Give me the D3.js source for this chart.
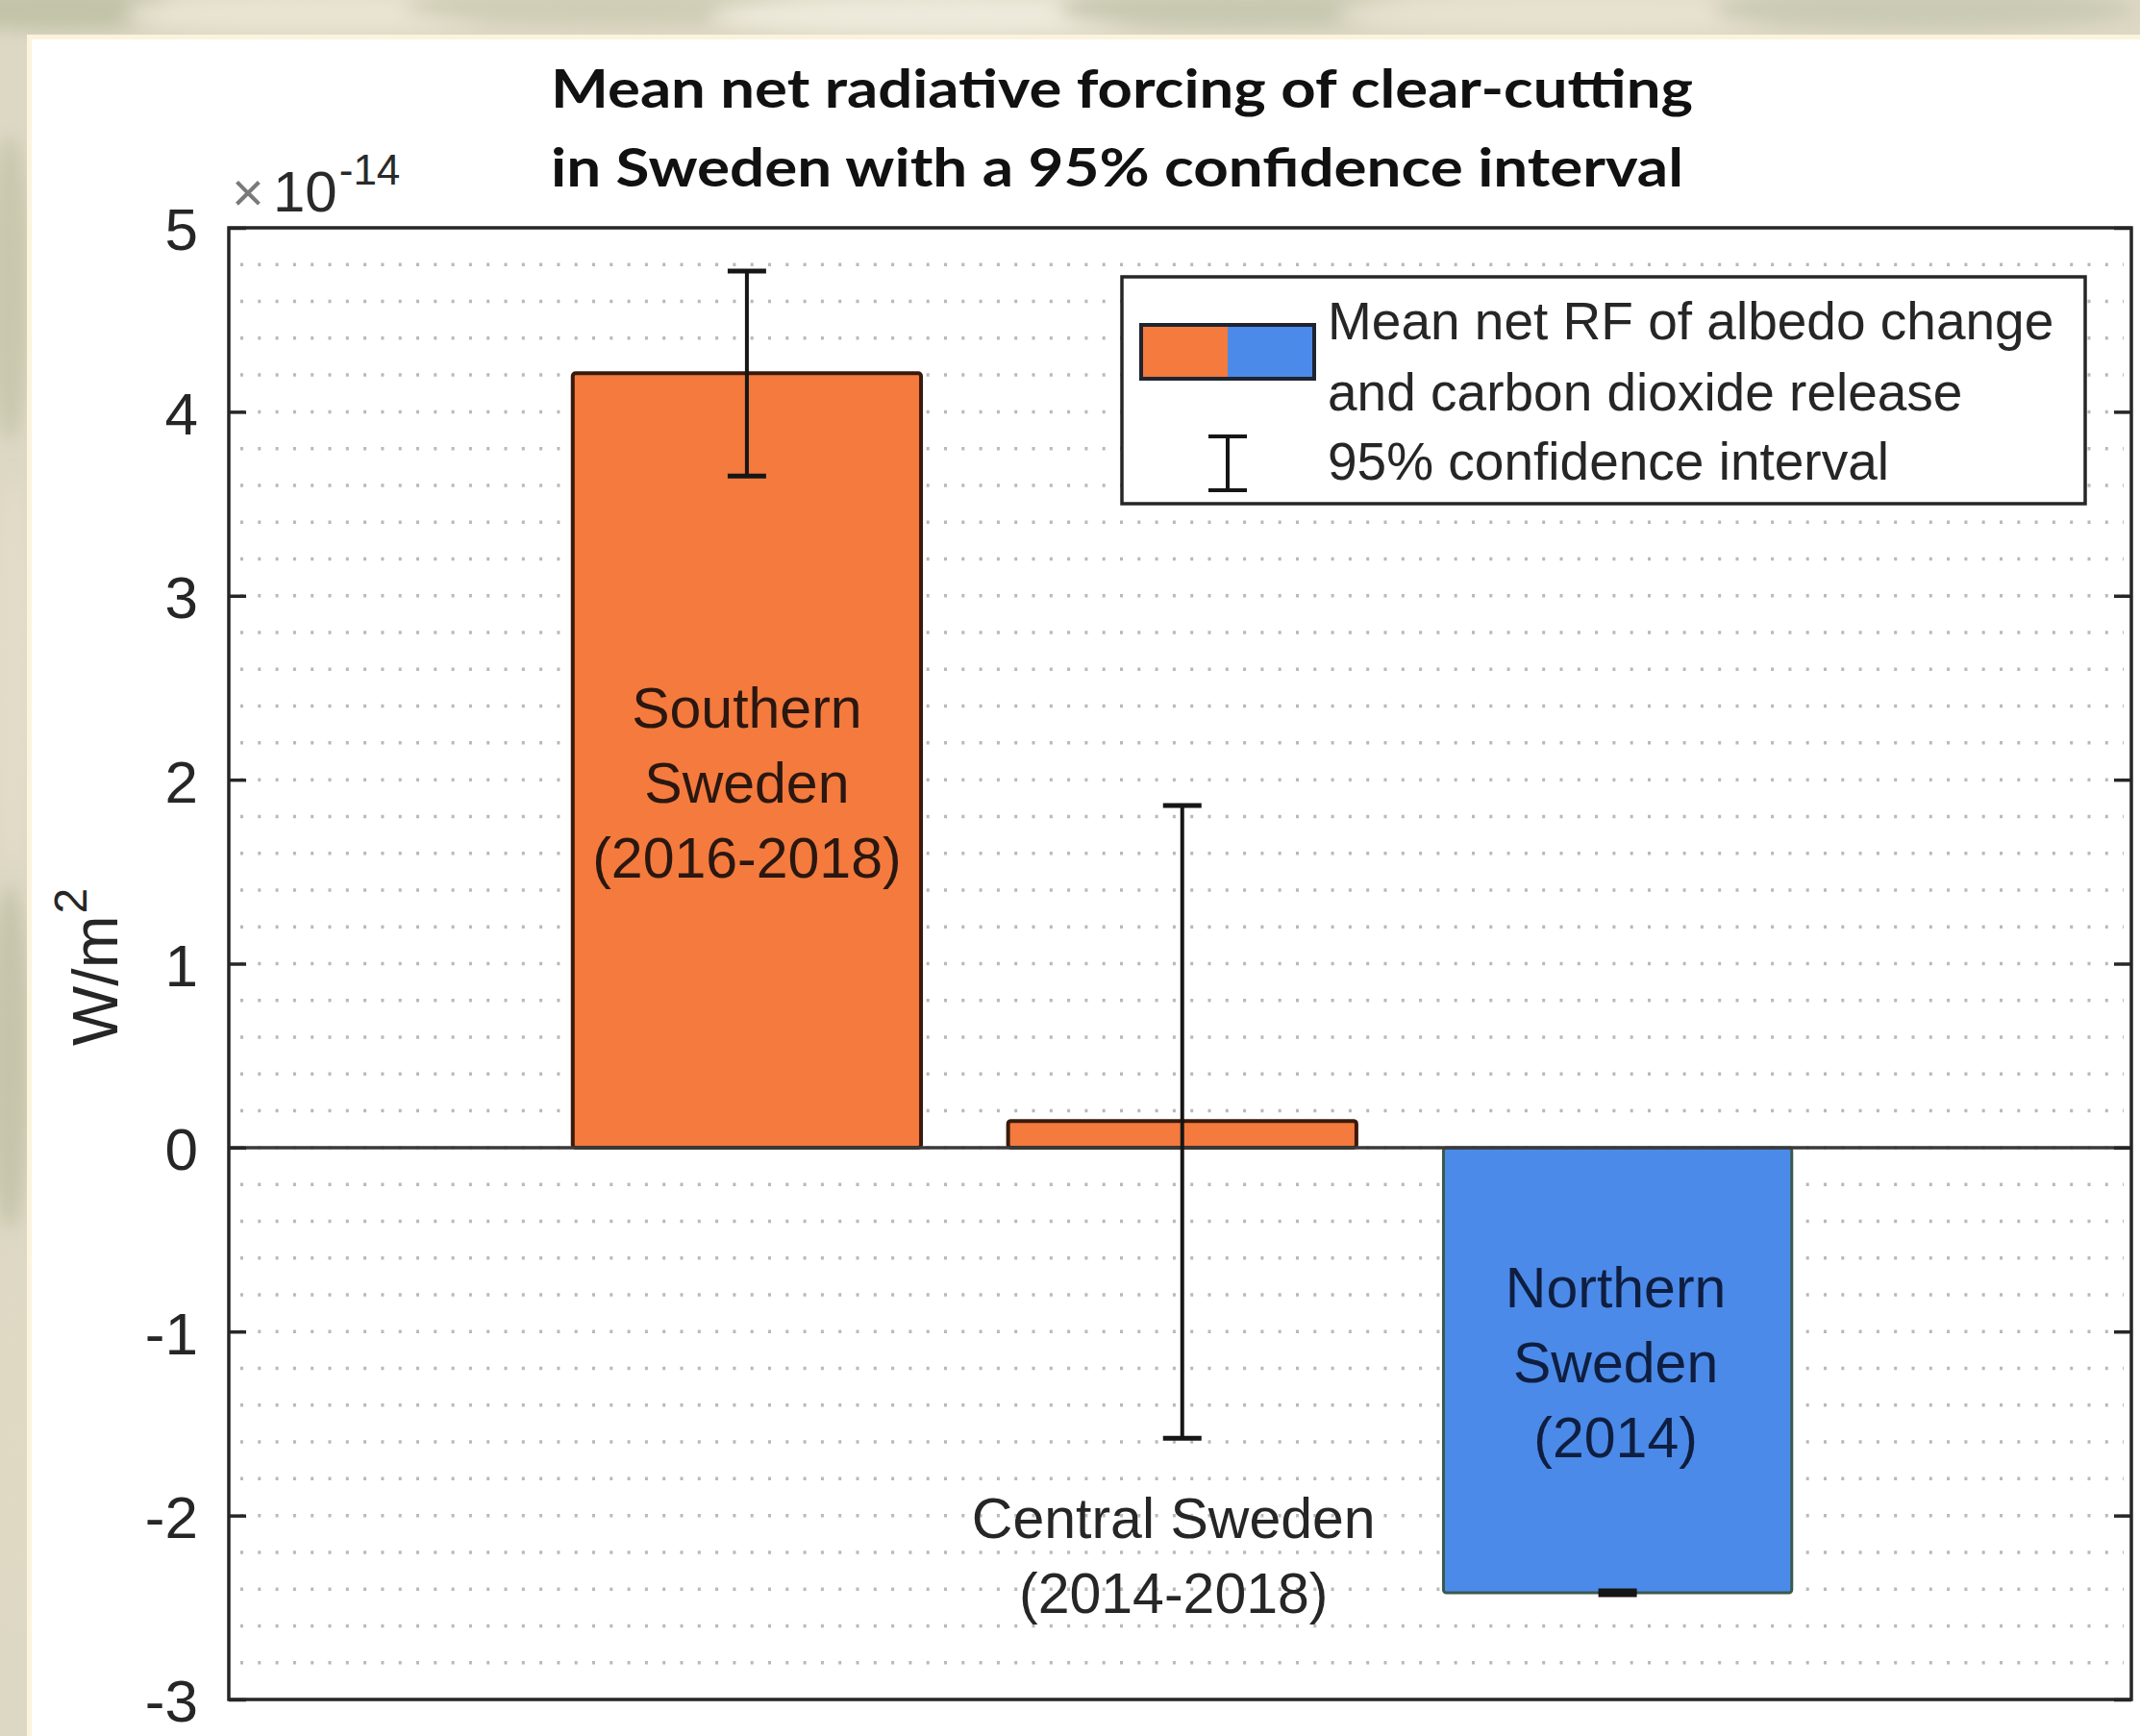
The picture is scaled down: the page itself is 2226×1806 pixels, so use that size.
<!DOCTYPE html>
<html>
<head>
<meta charset="utf-8">
<script src="https://cdn.jsdelivr.net/npm/d3@7/dist/d3.min.js"></script>
<style>
  html, body { margin: 0; padding: 0; background: #ffffff; }
  svg { display: block; }
</style>
</head>
<body>
<div id="chart"></div>
<script>
// ---------------- data ----------------
const categories = ["Southern Sweden (2016-2018)", "Central Sweden (2014-2018)", "Northern Sweden (2014)"];
const categoryPositions = [1, 2, 3];
const meanValues = [4.21, 0.145, -2.42];          // x 10^-14 W/m^2
const ciLower = [3.65, -1.58, -2.43];
const ciUpper = [4.765, 1.86, -2.41];
const barColors = ["#F47A3E", "#F47A3E", "#4B8AE8"];
const barLabelLines = [["Southern", "Sweden", "(2016-2018)"], ["Central Sweden", "(2014-2018)"], ["Northern", "Sweden", "(2014)"]];
const yTicks = [-3, -2, -1, 0, 1, 2, 3, 4, 5];
const yTickLabels = ["-3", "-2", "-1", "0", "1", "2", "3", "4", "5"];
const titleLines = ["Mean net radiative forcing of clear-cutting", "in Sweden with a 95% confidence interval"];
const legendLabels = ["Mean net RF of albedo change", "and carbon dioxide release", "95% confidence interval"];
const legendColors = ["#F47A3E", "#4B8AE8"];
const yExponent = "-14";
const yLabelBase = "W/m";
const yLabelSup = "2";

// ---------------- drawing ----------------
const W = 2226, H = 1806;
const SANS = "'Liberation Sans', Arial, Helvetica, sans-serif";
const svg = d3.select("#chart").append("svg").attr("width", W).attr("height", H);

const defs = svg.append("defs");
defs.append("filter").attr("id", "blur").attr("x", "-50%").attr("y", "-50%").attr("width", "200%").attr("height", "200%")
  .append("feGaussianBlur").attr("stdDeviation", 9);

// textured backdrop of the screenshot
const bg = svg.append("g");
bg.append("rect").attr("width", W).attr("height", H).attr("fill", "#ddd8c4");
const bgBlobs = bg.append("g").attr("filter", "url(#blur)");
[[60, 10, 140, 22, "#c2c3a9"], [330, 14, 200, 20, "#e9e4d2"], [640, 8, 220, 18, "#cfcdb6"],
 [980, 16, 240, 20, "#eeeadb"], [1300, 10, 200, 20, "#c8c8b0"], [1650, 14, 260, 20, "#e7e2d0"],
 [2000, 10, 220, 22, "#cbcab4"], [10, 300, 22, 160, "#c9c7ae"], [14, 700, 20, 200, "#e2dcc8"],
 [10, 1100, 22, 180, "#c6c4ab"], [14, 1500, 20, 200, "#dfd9c4"]]
  .forEach(b => bgBlobs.append("ellipse").attr("cx", b[0]).attr("cy", b[1]).attr("rx", b[2]).attr("ry", b[3]).attr("fill", b[4]));
bg.append("rect").attr("x", 28).attr("y", 36).attr("width", W - 28).attr("height", H - 36).attr("fill", "#fbf3dc");
bg.append("rect").attr("x", 33).attr("y", 41).attr("width", W - 33).attr("height", H - 41).attr("fill", "#ffffff");

// scales
const plot = { left: 238, right: 2217, top: 237, bottom: 1768 };
const x = d3.scaleLinear().domain([-0.19, 4.18]).range([plot.left, plot.right]);
const y = d3.scaleLinear().domain([-3, 5]).range([plot.bottom, plot.top]);
const barW = 0.8;

// dotted minor grid (every 0.2)
const gridVals = d3.range(-2.8, 4.9, 0.2).map(v => Math.round(v * 10) / 10);
svg.append("g").selectAll("line").data(gridVals).join("line")
  .attr("x1", plot.left + 12).attr("x2", plot.right - 8)
  .attr("y1", d => y(d)).attr("y2", d => y(d))
  .attr("stroke", "#b9b9b9").attr("stroke-width", 3.5).attr("stroke-dasharray", "3 15.3");

// bars
svg.append("g").selectAll("rect").data(meanValues).join("rect")
  .attr("x", (d, i) => x(categoryPositions[i] - barW / 2))
  .attr("width", (d, i) => x(categoryPositions[i] + barW / 2) - x(categoryPositions[i] - barW / 2))
  .attr("y", d => Math.min(y(d), y(0)))
  .attr("height", d => Math.abs(y(d) - y(0)))
  .attr("rx", 3)
  .attr("fill", (d, i) => barColors[i])
  .attr("stroke", (d, i) => d >= 0 ? "#3a1a0c" : "#3b5a4c")
  .attr("stroke-width", (d, i) => d >= 0 ? 4 : 3);

// baseline at zero
svg.append("line").attr("x1", plot.left).attr("x2", plot.right).attr("y1", y(0)).attr("y2", y(0))
  .attr("stroke", "#3a3a3a").attr("stroke-width", 3.5);

// error bars
const capHalf = 20;
const eb = svg.append("g").attr("stroke", "#161616").attr("fill", "none");
categoryPositions.forEach((p, i) => {
  const cx = x(p);
  eb.append("line").attr("x1", cx).attr("x2", cx).attr("y1", y(ciLower[i])).attr("y2", y(ciUpper[i])).attr("stroke-width", 4);
  eb.append("line").attr("x1", cx - capHalf).attr("x2", cx + capHalf).attr("y1", y(ciLower[i])).attr("y2", y(ciLower[i])).attr("stroke-width", 5);
  eb.append("line").attr("x1", cx - capHalf).attr("x2", cx + capHalf).attr("y1", y(ciUpper[i])).attr("y2", y(ciUpper[i])).attr("stroke-width", 5);
});

// axes (ticks inward, box)
const leftAxis = d3.axisLeft(y).tickValues(yTicks).tickFormat((d, i) => yTickLabels[i]).tickSize(-18).tickPadding(32);
const gl = svg.append("g").attr("transform", `translate(${plot.left},0)`).call(leftAxis);
gl.select(".domain").remove();
gl.selectAll(".tick line").attr("stroke", "#262626").attr("stroke-width", 3.5);
gl.selectAll(".tick text").attr("font-family", SANS).attr("font-size", 62).attr("fill", "#262626").attr("dy", "0.37em");

const rightAxis = d3.axisRight(y).tickValues(yTicks).tickFormat("").tickSize(-18);
const gr = svg.append("g").attr("transform", `translate(${plot.right},0)`).call(rightAxis);
gr.select(".domain").remove();
gr.selectAll(".tick line").attr("stroke", "#262626").attr("stroke-width", 3.5);

svg.append("rect").attr("x", plot.left).attr("y", plot.top)
  .attr("width", plot.right - plot.left).attr("height", plot.bottom - plot.top)
  .attr("fill", "none").attr("stroke", "#262626").attr("stroke-width", 3.5);

// bar annotations (anchored in data units)
const labelAnchor = [2.283, -2.121, -0.867];
const labelDx = [0, -9, -2];
const labelColors = ["#2a1710", "#262626", "#0f1e40"];
barLabelLines.forEach((lines, i) => {
  const t = svg.append("text").attr("font-family", SANS).attr("font-size", 59)
    .attr("fill", labelColors[i]).attr("text-anchor", "middle");
  lines.forEach((ln, k) => {
    t.append("tspan").attr("x", x(categoryPositions[i]) + labelDx[i])
      .attr("y", y(labelAnchor[i]) + k * 78).text(ln);
  });
});

// exponent label
svg.append("text").attr("x", 241).attr("y", 220).attr("font-family", SANS).attr("font-size", 58)
  .attr("fill", "#7a7a7a").text("\u00D7");
const expT = svg.append("text").attr("x", 284).attr("y", 220).attr("font-family", SANS).attr("font-size", 60)
  .attr("fill", "#2a2a2a");
expT.append("tspan").text("10");
expT.append("tspan").attr("font-size", 44).attr("dy", -28).attr("dx", 2).text(yExponent);

// y axis label
const yl = svg.append("text").attr("transform", "translate(122,1088) rotate(-90)")
  .attr("font-family", SANS).attr("font-size", 66).attr("fill", "#262626");
yl.append("tspan").text(yLabelBase);
yl.append("tspan").attr("font-size", 48).attr("dy", -32).attr("dx", 2).text(yLabelSup);

// title
const titleBaselines = [112, 194];
const titleWidths = [1188, 1178];
titleLines.forEach((ln, i) => {
  svg.append("text").attr("x", 573).attr("y", titleBaselines[i])
    .attr("font-family", "Lato, 'Open Sans', sans-serif").attr("font-weight", 700).attr("font-size", 56)
    .attr("fill", "#111111")
    .attr("textLength", titleWidths[i]).attr("lengthAdjust", "spacingAndGlyphs")
    .text(ln);
});

// legend
const lg = svg.append("g");
lg.append("rect").attr("x", 1167).attr("y", 288).attr("width", 1002).attr("height", 236)
  .attr("fill", "#ffffff").attr("stroke", "#262626").attr("stroke-width", 3.5);
const patch = { x: 1187, y: 338, w: 180, h: 56 };
legendColors.forEach((c, i) => {
  lg.append("rect").attr("x", patch.x + i * patch.w / 2).attr("y", patch.y)
    .attr("width", patch.w / 2).attr("height", patch.h).attr("fill", c);
});
lg.append("rect").attr("x", patch.x).attr("y", patch.y).attr("width", patch.w).attr("height", patch.h)
  .attr("fill", "none").attr("stroke", "#1e2430").attr("stroke-width", 4);
const ix = 1277, iy0 = 454, iy1 = 510;
lg.append("line").attr("x1", ix).attr("x2", ix).attr("y1", iy0).attr("y2", iy1).attr("stroke", "#161616").attr("stroke-width", 4);
lg.append("line").attr("x1", ix - 20).attr("x2", ix + 20).attr("y1", iy0).attr("y2", iy0).attr("stroke", "#161616").attr("stroke-width", 4);
lg.append("line").attr("x1", ix - 20).attr("x2", ix + 20).attr("y1", iy1).attr("y2", iy1).attr("stroke", "#161616").attr("stroke-width", 4);
const legendBaselines = [353, 427, 499];
legendLabels.forEach((ln, i) => {
  lg.append("text").attr("x", 1381).attr("y", legendBaselines[i])
    .attr("font-family", SANS).attr("font-size", 55).attr("fill", "#262626").text(ln);
});
</script>
</body>
</html>
